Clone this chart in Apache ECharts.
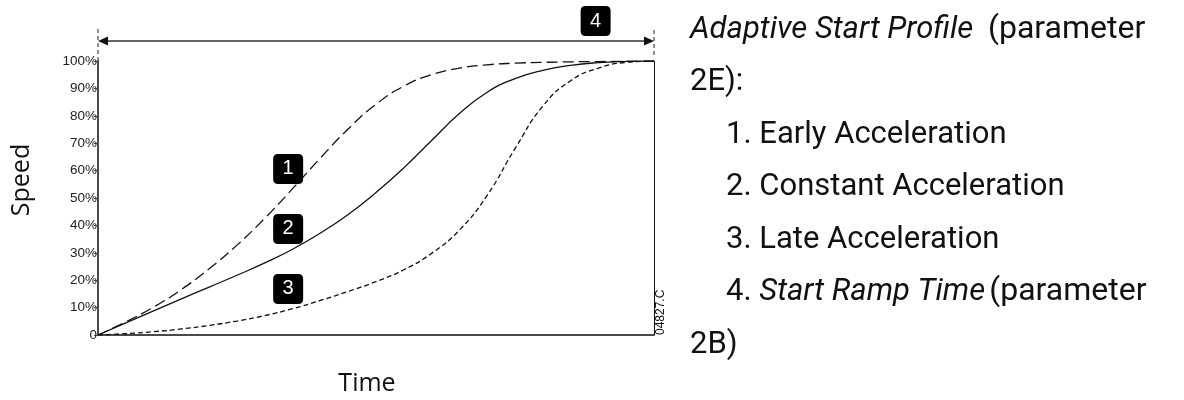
<!DOCTYPE html>
<html>
<head>
<meta charset="utf-8">
<title>Adaptive Start Profile</title>
<script src="https://cdn.jsdelivr.net/npm/echarts@6/dist/echarts.min.js"></script>
<style>
  html, body { margin: 0; padding: 0; background: #fff; }
  #chart { width: 1184px; height: 400px; }
</style>
</head>
<body>
<div id="chart"></div>
<script>
// time in % of start ramp time, speed in % of full speed
var timePct = [0, 5, 10, 15, 20, 25, 30, 35, 40, 45, 50, 55, 60, 65, 70, 75, 80, 85, 90, 95, 100]
var earlyAccel = [0, 4.8, 10.2, 16.6, 24.2, 32.8, 42.6, 53.4, 64.6, 75.2, 84.2, 90.8, 95.0, 97.4, 98.6, 99.2, 99.5, 99.7, 99.8, 99.9, 100]
var constantAccel = [0, 4.4, 8.8, 13.2, 17.5, 21.8, 26.3, 31.3, 37.2, 44.0, 52.0, 61.0, 71.0, 80.8, 88.6, 93.6, 96.6, 98.4, 99.4, 99.85, 100]
var lateAccel = [0, 0.5, 1.2, 2.2, 3.5, 5.1, 7.1, 9.6, 12.6, 15.9, 19.5, 23.8, 29.8, 38.3, 51.0, 68.0, 83.5, 92.8, 97.4, 99.5, 100]

// numbered callouts [time, speed, label]
var callouts = [
  [34.2, 60.6, '1'],
  [34.2, 38.7, '2'],
  [34.2, 16.8, '3'],
  [89.5, 114.6, '4']
]
// start ramp time arrow (speed units, above the plot)
var rampArrowY = 107.3
var guideTop = 112.4
var rightGuideBottom = 102.2

var legendLines = [
  { x: 690, y: 30, parts: [['it1', 'Adaptive Start Profile'], ['pm', '(parameter']] },
  { x: 690, y: 82, parts: [['rm', '2E):']] },
  { x: 726, y: 135, parts: [['rm', '1. Early Acceleration']] },
  { x: 726, y: 187, parts: [['rm', '2. Constant Acceleration']] },
  { x: 726, y: 240, parts: [['rm', '3. Late Acceleration']] },
  { x: 726, y: 292, parts: [['rm', '4. '], ['it2', 'Start Ramp Time'], ['pm', '(parameter']] },
  { x: 690, y: 345, parts: [['rm', '2B)']] }
]

function pairs(ys) {
  return timePct.map(function(t, i) { return [t, ys[i]] })
}

var boxPath = 'path://M5,0H25Q30,0 30,5V25Q30,30 25,30H5Q0,30 0,25V5Q0,0 5,0Z'
var curveStyle = { color: '#111', width: 1.3 }
var textRich = {
  rm: { fontFamily: 'Roboto', fontSize: 31, fill: '#111' },
  pm: { fontFamily: 'Roboto', fontSize: 32, fill: '#111' },
  it1: { fontFamily: 'Roboto', fontSize: 31, fontStyle: 'italic', fill: '#111', width: 298 },
  it2: { fontFamily: 'Roboto', fontSize: 31, fontStyle: 'italic', fill: '#111', width: 230 }
}

var chart = echarts.init(document.getElementById('chart'), null, { renderer: 'canvas' })

chart.setOption({
  animation: false,
  grid: { left: 98, right: 530, top: 61, bottom: 65 },
  xAxis: {
    type: 'value',
    min: 0,
    max: 100,
    axisLine: { show: true, lineStyle: { color: '#4a4a4a', width: 2 } },
    axisTick: { show: false },
    axisLabel: { show: false },
    splitLine: { show: false }
  },
  yAxis: {
    type: 'value',
    min: 0,
    max: 100,
    interval: 10,
    axisLine: { show: true, lineStyle: { color: '#4a4a4a', width: 2 } },
    axisTick: { show: true, length: 4, lineStyle: { color: '#4a4a4a', width: 1 } },
    axisLabel: {
      margin: 1,
      fontFamily: 'Liberation Sans',
      fontSize: 13.5,
      color: '#222',
      formatter: function(v) { return v === 0 ? '0' : v + '%' }
    },
    splitLine: { show: false }
  },
  series: [
    {
      name: 'Early Acceleration',
      type: 'line',
      smooth: 0.5,
      showSymbol: false,
      lineStyle: Object.assign({ type: [11, 5] }, curveStyle),
      data: pairs(earlyAccel)
    },
    {
      name: 'Constant Acceleration',
      type: 'line',
      smooth: 0.5,
      showSymbol: false,
      lineStyle: curveStyle,
      data: pairs(constantAccel),
      markLine: {
        silent: true,
        symbol: 'none',
        label: { show: false },
        emphasis: { disabled: true },
        lineStyle: { color: '#111', width: 1, type: 'solid' },
        data: [[{ coord: [100, 0] }, { coord: [100, 100] }]]
      }
    },
    {
      name: 'Late Acceleration',
      type: 'line',
      smooth: 0.5,
      showSymbol: false,
      lineStyle: Object.assign({ type: [5, 3] }, curveStyle),
      data: pairs(lateAccel)
    },
    {
      name: 'callouts',
      type: 'scatter',
      clip: false,
      silent: true,
      symbol: boxPath,
      symbolSize: [30, 30],
      itemStyle: { color: '#000', opacity: 1 },
      label: {
        show: true,
        position: 'inside',
        color: '#fff',
        fontFamily: 'Liberation Sans',
        fontSize: 20,
        formatter: function(p) { return p.value[2] }
      },
      data: callouts
    }
  ]
})

// ramp-time arrow and guides sit above the axis range, so place them via the axis scale
var pL = chart.convertToPixel({ gridIndex: 0 }, [0, rampArrowY])
var pR = chart.convertToPixel({ gridIndex: 0 }, [100, rampArrowY])
var gTopL = chart.convertToPixel({ gridIndex: 0 }, [0, guideTop])
var gBotL = chart.convertToPixel({ gridIndex: 0 }, [0, 100])
var gTopR = chart.convertToPixel({ gridIndex: 0 }, [100, guideTop])
var gBotR = chart.convertToPixel({ gridIndex: 0 }, [100, rightGuideBottom])

var graphics = legendLines.map(function(l) {
  return {
    type: 'text',
    x: l.x,
    y: l.y,
    style: {
      text: l.parts.map(function(p) { return '{' + p[0] + '|' + p[1] + '}' }).join(''),
      rich: textRich,
      verticalAlign: 'middle',
      align: 'left'
    }
  }
})
graphics.push(
  {
    type: 'text', x: 22, y: 180, rotation: Math.PI / 2,
    style: { text: 'Speed', fontFamily: 'Open Sans', fontSize: 25, fill: '#111', align: 'center', verticalAlign: 'middle' }
  },
  {
    type: 'text', x: 367, y: 384,
    style: { text: 'Time', fontFamily: 'Open Sans', fontSize: 25, fill: '#111', align: 'center', verticalAlign: 'middle' }
  },
  {
    type: 'text', x: 661, y: 335, rotation: Math.PI / 2,
    style: { text: '04827.C', fontFamily: 'Liberation Sans', fontSize: 12, fill: '#111', align: 'left', verticalAlign: 'middle' }
  },
  {
    type: 'line',
    shape: { x1: gBotL[0], y1: gBotL[1], x2: gTopL[0], y2: gTopL[1] },
    style: { stroke: '#222', lineWidth: 1, lineDash: [4, 3] }
  },
  {
    type: 'line',
    shape: { x1: gBotR[0], y1: gBotR[1], x2: gTopR[0], y2: gTopR[1] },
    style: { stroke: '#222', lineWidth: 1, lineDash: [4, 3] }
  },
  {
    type: 'line',
    shape: { x1: pL[0] + 8, y1: pL[1], x2: pR[0] - 8, y2: pR[1] },
    style: { stroke: '#333', lineWidth: 1.5 }
  },
  {
    type: 'polygon',
    shape: { points: [[pL[0], pL[1]], [pL[0] + 10, pL[1] - 4.5], [pL[0] + 10, pL[1] + 4.5]] },
    style: { fill: '#111' }
  },
  {
    type: 'polygon',
    shape: { points: [[pR[0], pR[1]], [pR[0] - 10, pR[1] - 4.5], [pR[0] - 10, pR[1] + 4.5]] },
    style: { fill: '#111' }
  }
)

chart.setOption({ graphic: graphics })
</script>
</body>
</html>
